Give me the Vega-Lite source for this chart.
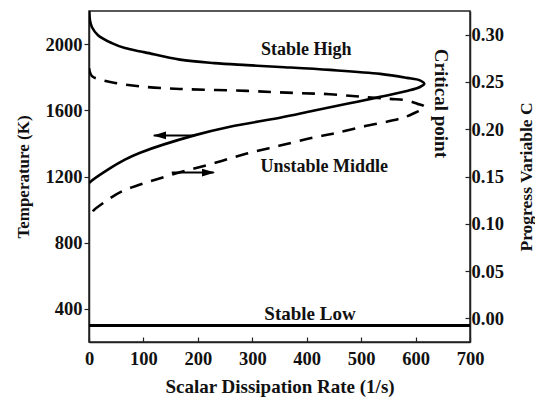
{
  "$schema": "https://vega.github.io/schema/vega-lite/v6.json",
  "width": 381,
  "height": 331,
  "autosize": {"type": "none"},
  "padding": {"left": 89, "top": 11, "right": 65, "bottom": 59},
  "background": "white",
  "config": {
    "view": {"stroke": "#222", "strokeWidth": 1.5},
    "font": "Liberation Serif",
    "axis": {
      "labelFont": "Liberation Serif", "labelFontWeight": "bold", "labelFontSize": 18.5, "labelColor": "#111",
      "titleFont": "Liberation Serif", "titleFontWeight": "bold", "titleFontSize": 19, "titleColor": "#111",
      "domainColor": "#222", "domainWidth": 1.5, "tickColor": "#222", "tickWidth": 1.2, "grid": false
    }
  },
  "datasets": {
    "solid": [
      {"i": 1, "X": 0.5, "T": 2200}, {"i": 2, "X": 2, "T": 2140}, {"i": 3, "X": 5.5, "T": 2102},
      {"i": 4, "X": 16.5, "T": 2054}, {"i": 5, "X": 42, "T": 2006}, {"i": 6, "X": 66, "T": 1976},
      {"i": 7, "X": 103, "T": 1950}, {"i": 8, "X": 167, "T": 1906}, {"i": 9, "X": 230, "T": 1885},
      {"i": 10, "X": 290, "T": 1873}, {"i": 11, "X": 351, "T": 1862}, {"i": 12, "X": 443, "T": 1844},
      {"i": 13, "X": 535, "T": 1820}, {"i": 14, "X": 584, "T": 1796}, {"i": 15, "X": 608, "T": 1781},
      {"i": 16, "X": 616, "T": 1760}, {"i": 17, "X": 608, "T": 1741}, {"i": 18, "X": 584, "T": 1717},
      {"i": 19, "X": 535, "T": 1681}, {"i": 20, "X": 474, "T": 1639}, {"i": 21, "X": 412, "T": 1597},
      {"i": 22, "X": 351, "T": 1555}, {"i": 23, "X": 259, "T": 1501}, {"i": 24, "X": 195, "T": 1450},
      {"i": 25, "X": 94, "T": 1344}, {"i": 26, "X": 66, "T": 1302}, {"i": 27, "X": 29, "T": 1230},
      {"i": 28, "X": 4, "T": 1172}, {"i": 29, "X": 1, "T": 1160}
    ],
    "dashed": [
      {"i": 1, "X": 0, "C": 0.2646}, {"i": 2, "X": 5.5, "C": 0.2562}, {"i": 3, "X": 24, "C": 0.252},
      {"i": 4, "X": 48, "C": 0.2489}, {"i": 5, "X": 99, "C": 0.245}, {"i": 6, "X": 167, "C": 0.2426},
      {"i": 7, "X": 290, "C": 0.2405}, {"i": 8, "X": 375, "C": 0.2384}, {"i": 9, "X": 443, "C": 0.237},
      {"i": 10, "X": 503, "C": 0.2342}, {"i": 11, "X": 553, "C": 0.2321}, {"i": 12, "X": 584, "C": 0.2305},
      {"i": 13, "X": 603, "C": 0.227}, {"i": 14, "X": 617, "C": 0.2235}, {"i": 15, "X": 595, "C": 0.2163},
      {"i": 16, "X": 571, "C": 0.2111}, {"i": 17, "X": 503, "C": 0.2027}, {"i": 18, "X": 448, "C": 0.1953},
      {"i": 19, "X": 412, "C": 0.1911}, {"i": 20, "X": 351, "C": 0.1827}, {"i": 21, "X": 290, "C": 0.1743},
      {"i": 22, "X": 228, "C": 0.1638}, {"i": 23, "X": 167, "C": 0.1544}, {"i": 24, "X": 107, "C": 0.1439},
      {"i": 25, "X": 61, "C": 0.1344}, {"i": 26, "X": 39, "C": 0.1271}, {"i": 27, "X": 9, "C": 0.1145},
      {"i": 28, "X": 7, "C": 0.113}
    ],
    "low": [{"X": 0, "T": 300}, {"X": 700, "T": 300}],
    "arrows": [
      {"X": 119, "X2": 195, "T": 1448},
      {"X": 152, "X2": 229, "T": 1224}
    ],
    "heads": [
      {"X": 117.6, "T": 1448, "dir": "left"},
      {"X": 231.5, "T": 1224, "dir": "right"}
    ],
    "labels": [
      {"X": 399, "T": 1964, "label": "Stable High", "angle": 0, "size": 18},
      {"X": 432, "T": 1260, "label": "Unstable Middle", "angle": 0, "size": 18},
      {"X": 406, "T": 370, "label": "Stable Low", "angle": 0, "size": 19},
      {"X": 647, "T": 1642, "label": "Critical point", "angle": 90, "size": 19}
    ]
  },
  "layer": [
    {
      "encoding": {
        "x": {
          "field": "X", "type": "quantitative",
          "scale": {"domain": [0, 700], "nice": false},
          "axis": {
            "title": "Scalar Dissipation Rate (1/s)",
            "values": [0, 50, 100, 150, 200, 250, 300, 350, 400, 450, 500, 550, 600, 650, 700],
            "labelExpr": "datum.value % 100 === 0 ? datum.label : ''",
            "tickSize": {"condition": {"test": "datum.value % 100 === 0", "value": -5}, "value": -3},
            "labelPadding": 12, "titlePadding": 10, "labelFlush": false
          }
        },
        "y": {
          "field": "T", "type": "quantitative",
          "scale": {"domain": [200, 2200], "nice": false, "zero": false},
          "axis": {
            "title": "Temperature (K)", "titleFontSize": 17,
            "values": [400, 800, 1200, 1600, 2000],
            "format": "d", "tickSize": 5, "labelPadding": 2, "titlePadding": 13
          }
        }
      },
      "layer": [
        {"data": {"name": "solid"}, "mark": {"type": "line", "color": "black", "strokeWidth": 2.6, "interpolate": "catmull-rom", "clip": true},
         "encoding": {"order": {"field": "i", "type": "quantitative"}}},
        {"data": {"name": "low"}, "mark": {"type": "line", "color": "black", "strokeWidth": 3, "clip": true},
         "encoding": {}},
        {"data": {"name": "arrows"}, "mark": {"type": "rule", "color": "black", "strokeWidth": 2},
         "encoding": {"x2": {"field": "X2"}}},
        {"data": {"name": "heads"}, "mark": {"type": "point", "filled": true, "color": "black", "opacity": 1, "size": 169},
         "encoding": {"shape": {"field": "dir", "type": "nominal", "legend": null,
           "scale": {"domain": ["left", "right"], "range": ["M0,0L2,-0.6L2,0.6Z", "M0,0L-2,-0.6L-2,0.6Z"]}}}},
        {"data": {"name": "labels"}, "mark": {"type": "text", "font": "Liberation Serif", "fontWeight": "bold", "color": "#111", "align": "center", "baseline": "middle"},
         "encoding": {"text": {"field": "label"}, "size": {"field": "size", "type": "quantitative", "scale": null}, "angle": {"field": "angle", "type": "quantitative", "scale": null}}}
      ]
    },
    {
      "data": {"name": "dashed"},
      "mark": {"type": "line", "color": "black", "strokeWidth": 2.6, "strokeDash": [13, 9], "interpolate": "catmull-rom", "clip": true},
      "encoding": {
        "x": {"field": "X", "type": "quantitative", "scale": {"domain": [0, 700], "nice": false}},
        "y": {
          "field": "C", "type": "quantitative",
          "scale": {"domain": [-0.025, 0.325], "nice": false, "zero": false},
          "axis": {
            "orient": "right", "title": "Progress Variable C", "titleFontSize": 17.5,
            "values": [0, 0.05, 0.1, 0.15, 0.2, 0.25, 0.3],
            "format": ".2f", "tickSize": -5, "labelPadding": 6, "titleAngle": 270, "titleBaseline": "top", "titlePadding": 14
          }
        },
        "order": {"field": "i", "type": "quantitative"}
      }
    }
  ],
  "resolve": {"scale": {"y": "independent"}}
}
